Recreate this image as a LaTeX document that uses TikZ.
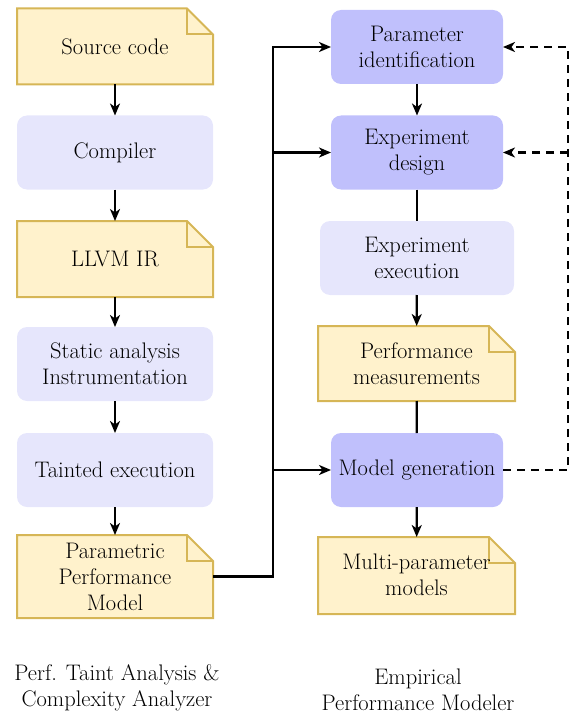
\documentclass[tikz,border=0pt]{standalone}
\usetikzlibrary{arrows.meta,calc}
\definecolor{docfill}{HTML}{FFF2CC}
\definecolor{docline}{HTML}{D6B656}
\definecolor{lightbox}{HTML}{E6E6FC}
\definecolor{midbox}{HTML}{C0C0FC}
\begin{document}
\begin{tikzpicture}[x=1pt,y=-1pt,
  every node/.style={font=\fontsize{22.5}{26}\selectfont, inner sep=0pt, outer sep=0pt, align=center},
  docbox/.style={rectangle, minimum width=#1, minimum height=76pt},
  lbox/.style={rectangle, rounded corners=10pt, fill=lightbox, minimum width=196pt, minimum height=74pt},
  mbox/.style={rectangle, rounded corners=10pt, fill=midbox, minimum width=172pt, minimum height=74pt},
  conn/.style={line width=2.2pt, -{Stealth[length=12pt,width=10pt,inset=3.5pt]}},
  plain/.style={line width=2.2pt},
  dconn/.style={line width=2.2pt, dash pattern=on 8pt off 6pt, -{Stealth[length=12pt,width=10pt,inset=3.5pt]}},
  docdraw/.style={fill=docfill, draw=docline, line width=2pt, line join=miter}
]
\useasboundingbox (0,0) rectangle (571,714);

\newcommand{\docshape}[1]{%
  \draw[docdraw] (#1.north west) -- ([xshift=-26pt]#1.north east) -- ([yshift=-26pt]#1.north east) -- (#1.south east) -- (#1.south west) -- cycle;
  \draw[docdraw, fill=none] ([xshift=-26pt]#1.north east) -- ([xshift=-26pt,yshift=-26pt]#1.north east) -- ([yshift=-26pt]#1.north east);
}

% left column
\node[docbox=196pt] (src) at (115,46.5) {};
\docshape{src}
\node at (src.center) {Source code};
\node[lbox] (comp) at (115,152.5) {Compiler};
\node[docbox=196pt] (llvm) at (115,259) {};
\docshape{llvm}
\node at (llvm.center) {LLVM IR};
\node[lbox] (sa) at (115,364) {Static analysis\\Instrumentation};
\node[lbox] (te) at (115,470) {Tainted execution};
\node[docbox=196pt, minimum height=83pt] (ppm) at (115,576.5) {};
\docshape{ppm}
\node at (ppm.center) {Parametric\\Performance\\Model};

% right column
\node[mbox] (pid) at (417,47) {Parameter\\identification};
\node[mbox] (ed) at (417,152.5) {Experiment\\design};
\node[lbox, minimum width=194pt] (ee) at (417,258) {Experiment\\execution};
\node[docbox=197pt, minimum height=75pt] (pm) at (416.5,363.5) {};
\docshape{pm}
\node at (pm.center) {Performance\\measurements};
\node[mbox] (mg) at (417,470) {Model generation};
\node[docbox=197pt, minimum height=77pt] (mpm) at (416.5,575.5) {};
\docshape{mpm}
\node at ([yshift=1pt]mpm.center) {Multi-parameter\\models};

% vertical connectors
\draw[conn] (src) -- (comp);
\draw[conn] (comp) -- (llvm);
\draw[conn] (llvm) -- (sa);
\draw[conn] (sa) -- (te);
\draw[conn] (te) -- (ppm);
\draw[conn] (pid) -- (ed);
\draw[plain] (ed) -- (ee);
\draw[conn] (ee) -- (pm);
\draw[plain] (pm) -- (mg);
\draw[conn] (mg) -- (mpm);

% trunk
\coordinate (trunk) at (273,0);
\draw[conn, line join=miter] (ppm.east) -| (trunk |- pid.west) -- (pid.west);
\draw[conn] (trunk |- ed.west) -- (ed.west);
\draw[conn] (trunk |- mg.west) -- (mg.west);

% dashed feedback
\coordinate (dtrunk) at (568,0);
\draw[dconn, line join=miter] (mg.east) -| (dtrunk |- pid.east) -- (pid.east);
\draw[dconn] (dtrunk |- ed.east) -- (ed.east);

% captions
\node (capl) at (117,688) {Perf. Taint Analysis \&\\Complexity Analyzer};
\node (capr) at (418,690) {Empirical\\Performance Modeler};
\end{tikzpicture}
\end{document}
